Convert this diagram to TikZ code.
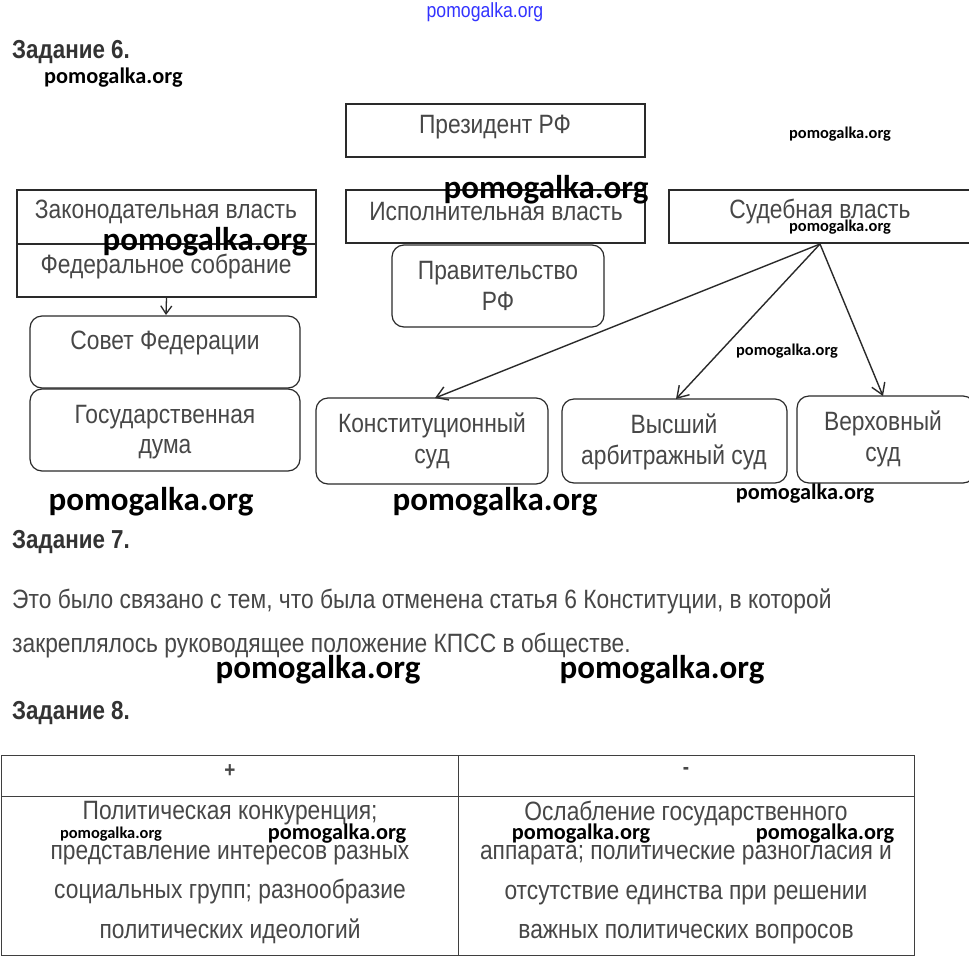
\documentclass[tikz,border=0pt]{standalone}
\usepackage{fontspec}
\setmainfont[FakeStretch=0.86]{Liberation Sans}
\newfontfamily\wmfont{Carlito}
\usetikzlibrary{arrows.meta}
\definecolor{txtc}{HTML}{474747}
\definecolor{linec}{HTML}{2A2A2A}
\definecolor{headc}{HTML}{333333}
\begin{document}
\begin{tikzpicture}[x=1pt,y=-1pt,
  sqbox/.style={draw=linec,line width=1.8pt,inner sep=0pt,rectangle},
  rbox/.style={draw=linec,line width=1.2pt,inner sep=0pt,rectangle,rounded corners=12pt},
  cell/.style={draw=linec!90,line width=0.9pt,inner sep=0pt,rectangle},
  txt/.style={text=txtc,font=\fontsize{26.5}{30.5}\selectfont,inner sep=0pt,align=center},
  ptxt/.style={text=txtc,font=\fontsize{26.5}{30}\selectfont,inner sep=0pt,anchor=west},
  head/.style={text=headc,font=\fontsize{26}{28}\selectfont\bfseries,inner sep=0pt,anchor=west},
  wmbig/.style={font=\wmfont\bfseries\fontsize{33}{35}\selectfont,inner sep=0pt},
  wmmid/.style={font=\wmfont\bfseries\fontsize{22.3}{24}\selectfont,inner sep=0pt},
  wmsmall/.style={font=\wmfont\bfseries\fontsize{16.4}{18}\selectfont,inner sep=0pt},
  arr/.style={draw=linec,line width=1.4pt,-{Straight Barb[length=11pt,width=14pt]}}
]
\useasboundingbox (0,0) rectangle (969,967);
\fill[white] (0,0) rectangle (969,967);

% top watermark
\node[text=blue!80!white,font=\fontsize{20.5}{22}\selectfont,inner sep=0pt] (wtop) at (485,12) {pomogalka.org};

% Задание 6
\node[head] (h6) at (12,52) {Задание 6.};
\node[wmmid,anchor=west] (w1) at (44,78) {pomogalka.org};

% boxes
\node[sqbox,minimum width=299pt,minimum height=53pt] (pres) at (495.5,130.5) {};
\node[txt] (presT) at (495,127) {Президент РФ};
\node[wmsmall] (w2) at (840,134) {pomogalka.org};

\node[sqbox,minimum width=299pt,minimum height=54pt] (zak) at (166.5,217) {};
\node[sqbox,minimum width=299pt,minimum height=53pt] (fed) at (166.5,270.5) {};
\node[txt] (zakT) at (166,212) {Законодательная власть};
\node[txt] (fedT) at (166,267) {Федеральное собрание};

\node[sqbox,minimum width=299pt,minimum height=53pt] (isp) at (495.5,216.5) {};
\node[txt] (ispT) at (496,212) {Исполнительная власть};

\node[sqbox,minimum width=310pt,minimum height=53pt] (sud) at (824,216.5) {};
\node[txt] (sudT) at (820,212) {Судебная власть};

\node[rbox,minimum width=212pt,minimum height=82pt] (prav) at (498,286) {};
\node[txt] (pravT) at (498,286) {Правительство\\РФ};

\node[rbox,minimum width=270pt,minimum height=72pt] (sov) at (165,352) {};
\node[txt] (sovT) at (165,343) {Совет Федерации};
\node[rbox,minimum width=270pt,minimum height=82pt] (duma) at (165,430) {};
\node[txt] (dumaT) at (165,432) {Государственная\\дума};

\node[rbox,minimum width=232pt,minimum height=86pt] (kon) at (432,441) {};
\node[txt] (konT) at (432,441) {Конституционный\\суд};
\node[rbox,minimum width=225pt,minimum height=84pt] (vys) at (674.5,441) {};
\node[txt] (vysT) at (674,442) {Высший\\арбитражный суд};
\node[rbox,minimum width=178pt,minimum height=87pt] (ver) at (886,439.5) {};
\node[txt] (verT) at (883,439) {Верховный\\суд};

% arrows
\draw[draw=linec,line width=1.3pt,-{Straight Barb[length=8pt,width=11pt]}] (fed.south) -- (166,315);
\coordinate (sudS) at (820,244);
\draw[arr] (sudS) -- (435,398);
\draw[arr] (sudS) -- (676,399);
\draw[arr] (sudS) -- (883,396);

% watermarks over diagram
\node[wmbig] (w3) at (546,190) {pomogalka.org};
\node[wmbig] (w4) at (205,242) {pomogalka.org};
\node[wmsmall] (w5) at (840,227) {pomogalka.org};
\node[wmsmall] (w6) at (787,351) {pomogalka.org};
\node[wmbig] (w7) at (151,502) {pomogalka.org};
\node[wmbig] (w8) at (495,502) {pomogalka.org};
\node[wmmid] (w9) at (805,494) {pomogalka.org};

% Задание 7
\node[head] (h7) at (12,542) {Задание 7.};
\node[ptxt] (p1) at (12,601) {Это было связано с тем, что была отменена статья 6 Конституции, в которой};
\node[ptxt] (p2) at (12,646) {закреплялось руководящее положение КПСС в обществе.};
\node[wmbig] (w10) at (318,670) {pomogalka.org};
\node[wmbig] (w11) at (662,670) {pomogalka.org};

% Задание 8
\node[head] (h8) at (12,713) {Задание 8.};

\node[cell,minimum width=457pt,minimum height=41pt] (c11) at (229.5,775.5) {};
\node[cell,minimum width=456pt,minimum height=41pt] (c12) at (686,775.5) {};
\node[cell,minimum width=457pt,minimum height=159pt] (c21) at (229.5,875.5) {};
\node[cell,minimum width=456pt,minimum height=159pt] (c22) at (686,875.5) {};
\node[txt,font=\fontsize{22}{24}\selectfont\bfseries] (plus) at (230,771) {+};
\node[txt,font=\fontsize{22}{24}\selectfont\bfseries] (minus) at (686,771) {-};
\node[txt,font=\fontsize{26.5}{39.5}\selectfont] (lt) at (230,872.5) {Политическая конкуренция;\\представление интересов разных\\социальных групп; разнообразие\\политических идеологий};
\node[txt,font=\fontsize{26.5}{39.5}\selectfont] (rt) at (686,872.5) {Ослабление государственного\\аппарата; политические разногласия и\\отсутствие единства при решении\\важных политических вопросов};
\node[wmsmall] (w12) at (111,834) {pomogalka.org};
\node[wmmid] (w13) at (337,834) {pomogalka.org};
\node[wmmid] (w14) at (581,834) {pomogalka.org};
\node[wmmid] (w15) at (825,834) {pomogalka.org};
\end{tikzpicture}
\end{document}
